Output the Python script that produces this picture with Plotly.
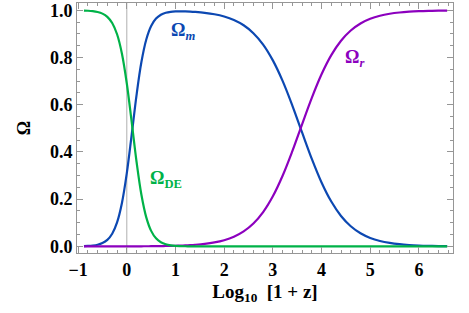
import plotly.graph_objects as go

log_1pz = [-0.88, -0.8, -0.7, -0.6, -0.5, -0.4, -0.3, -0.2, -0.1, 0.0,
           0.1, 0.2, 0.3, 0.4, 0.5, 0.6, 0.7, 0.8, 0.9, 1.0,
           1.1, 1.2, 1.3, 1.4, 1.6, 1.8, 2.0, 2.2, 2.4, 2.6,
           2.8, 3.0, 3.2, 3.4, 3.6, 3.8, 4.0, 4.2, 4.4, 4.6,
           4.8, 5.0, 5.2, 5.4, 5.6, 5.8, 6.0, 6.2, 6.4, 6.58]

omega_m = [0.00103, 0.00179, 0.00356, 0.00707, 0.01401, 0.02757, 0.05353, 0.10141, 0.18380, 0.31000,
           0.47254, 0.64114, 0.78080, 0.87634, 0.93350, 0.96493, 0.98133, 0.98955, 0.99346, 0.99511,
           0.99552, 0.99520, 0.99438, 0.99315, 0.98936, 0.98329, 0.97379, 0.95908, 0.93667, 0.90321,
           0.85482, 0.78791, 0.70097, 0.59661, 0.48271, 0.37059, 0.27087, 0.18989, 0.12884, 0.08535,
           0.05561, 0.03582, 0.02290, 0.01457, 0.00925, 0.00585, 0.00370, 0.00234, 0.00148, 0.00098]

omega_r = [0.0, 0.0, 0.0, 0.0, 0.00001, 0.00002, 0.00003, 0.00005, 0.00008, 0.00012,
           0.00016, 0.00027, 0.00042, 0.00059, 0.00080, 0.00103, 0.00132, 0.00168, 0.00212, 0.00268,
           0.00337, 0.00425, 0.00534, 0.00672, 0.01060, 0.01670, 0.02621, 0.04092, 0.06333, 0.09679,
           0.14518, 0.21209, 0.29903, 0.40339, 0.51729, 0.62941, 0.72913, 0.81011, 0.87116, 0.91465,
           0.94439, 0.96418, 0.97710, 0.98543, 0.99075, 0.99415, 0.99630, 0.99766, 0.99852, 0.99902]

omega_de = [0.99897, 0.99821, 0.99644, 0.99293, 0.98599, 0.97243, 0.94647, 0.89859, 0.81620, 0.69000,
            0.52730, 0.35859, 0.21878, 0.12307, 0.06570, 0.03404, 0.01735, 0.00877, 0.00441, 0.00222,
            0.00111, 0.00056, 0.00028, 0.00014, 0.00004, 0.00001, 0.0, 0.0, 0.0, 0.0,
            0.0, 0.0, 0.0, 0.0, 0.0, 0.0, 0.0, 0.0, 0.0, 0.0,
            0.0, 0.0, 0.0, 0.0, 0.0, 0.0, 0.0, 0.0, 0.0, 0.0]

x_ticks = [-1, 0, 1, 2, 3, 4, 5, 6]
x_tick_text = ["\u22121", "0", "1", "2", "3", "4", "5", "6"]
y_ticks = [0.0, 0.2, 0.4, 0.6, 0.8, 1.0]
y_tick_text = ["0.0", "0.2", "0.4", "0.6", "0.8", "1.0"]

BLUE = "rgb(12,72,178)"
PURPLE = "rgb(140,0,190)"
GREEN = "rgb(0,178,72)"
FRAME = "rgb(150,150,150)"
SERIF = "Liberation Serif, Times New Roman, serif"

fig = go.Figure()
fig.add_trace(go.Scatter(x=log_1pz, y=omega_m, mode="lines",
                         line=dict(color=BLUE, width=2.2, shape="spline"), showlegend=False))
fig.add_trace(go.Scatter(x=log_1pz, y=omega_r, mode="lines",
                         line=dict(color=PURPLE, width=2.2, shape="spline"), showlegend=False))
fig.add_trace(go.Scatter(x=log_1pz, y=omega_de, mode="lines",
                         line=dict(color=GREEN, width=2.2, shape="spline"), showlegend=False))

fig.add_vline(x=0, line=dict(color="rgb(175,175,175)", width=1), layer="below")

axis_common = dict(
    showgrid=False, zeroline=False, showline=True, linecolor=FRAME, linewidth=1,
    mirror="allticks", ticks="inside", ticklen=6, tickwidth=1, tickcolor=FRAME,
    tickfont=dict(family=SERIF, size=18, color="black", weight="bold"),
    automargin=False, ticklabeloverflow="allow",
)

fig.update_xaxes(
    **axis_common, range=[-1.023, 6.70], tickvals=x_ticks, ticktext=x_tick_text,
    minor=dict(dtick=0.2, tick0=0, ticks="inside", ticklen=3, tickcolor=FRAME, showgrid=False),
    title=dict(text="Log<sub>10</sub>  [1 + z]",
               font=dict(family=SERIF, size=19, color="black", weight="bold"), standoff=6),
)
fig.update_yaxes(
    **axis_common, range=[-0.028, 1.031], tickvals=y_ticks, ticktext=y_tick_text,
    minor=dict(dtick=0.05, tick0=0, ticks="inside", ticklen=3, tickcolor=FRAME, showgrid=False),
    title=dict(text="\u03a9", font=dict(family=SERIF, size=18, color="black", weight="bold"),
               standoff=14),
)

ann_font = dict(family=SERIF, size=18, weight="bold")
fig.add_annotation(x=1.16, y=0.912, text="\u03a9<sub><i>m</i></sub>", showarrow=False,
                   font=dict(**ann_font, color=BLUE))
fig.add_annotation(x=4.67, y=0.795, text="\u03a9<sub><i>r</i></sub>", showarrow=False,
                   font=dict(**ann_font, color=PURPLE))
fig.add_annotation(x=0.8, y=0.285, text="\u03a9<sub>DE</sub>", showarrow=False,
                   font=dict(**ann_font, color=GREEN))

fig.update_layout(
    width=469, height=313,
    margin=dict(l=77, r=16, t=3, b=60, autoexpand=False),
    paper_bgcolor="white", plot_bgcolor="white",
)

fig.write_html("out.html", config={"displayModeBar": False},
               post_script="document.body.style.margin='0';document.body.style.padding='0';")
